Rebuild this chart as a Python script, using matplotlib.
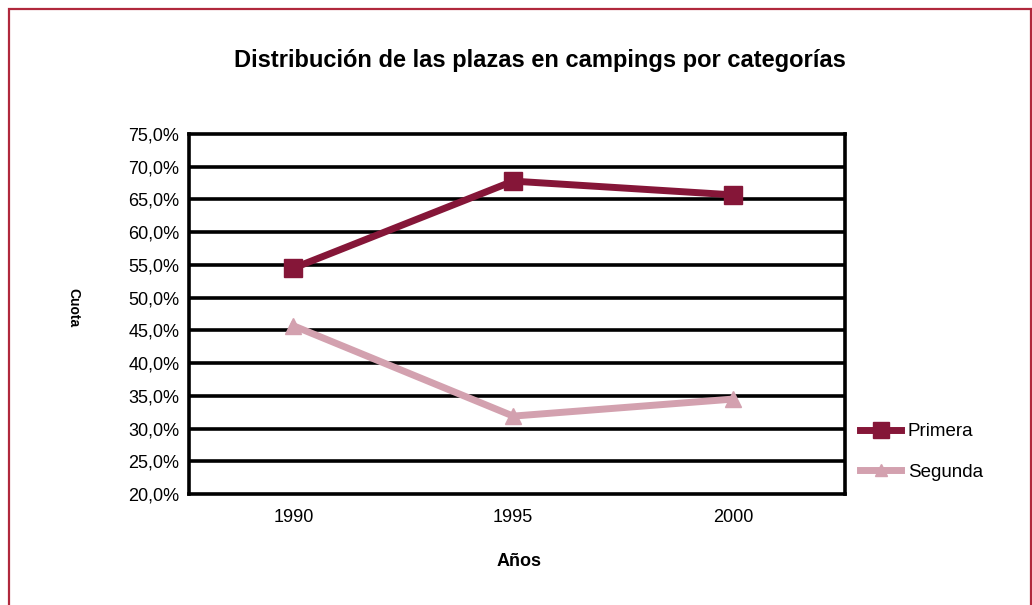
import matplotlib
matplotlib.use("Agg")
import matplotlib.pyplot as plt
from matplotlib.patches import Rectangle
from matplotlib.ticker import FuncFormatter

plt.rcParams['font.family'] = ['Liberation Sans', 'DejaVu Sans']

years = ["1990", "1995", "2000"]
primera = [54.5, 67.8, 65.7]
segunda = [45.7, 31.9, 34.5]
yticks = [20, 25, 30, 35, 40, 45, 50, 55, 60, 65, 70, 75]

W, H = 1032, 605
fig = plt.figure(figsize=(W / 100, H / 100), dpi=100)
fig.patch.set_facecolor('white')

# outer frame
fig.add_artist(Rectangle((9 / W, -0.05), (1031 - 9) / W, 1.05 - 9 / H,
                         transform=fig.transFigure, fill=False,
                         edgecolor='#B0283C', linewidth=1.6))

ax = fig.add_axes([189 / W, 1 - 494 / H, (845 - 189) / W, (494 - 134) / H])
x = range(len(years))
c1 = '#851638'
c2 = '#D3A1AF'
ax.plot(x, primera, color=c1, lw=5, marker='s', ms=13, label='Primera', zorder=4)
ax.plot(x, segunda, color=c2, lw=5, marker='^', ms=11, label='Segunda', zorder=4)

ax.set_xlim(-0.475, 2.51)
ax.set_ylim(20, 75)
ax.set_yticks(yticks)
ax.yaxis.set_major_formatter(FuncFormatter(lambda v, p: f"{v:.1f}%".replace('.', ',')))
ax.set_xticks(list(x))
ax.set_xticklabels(years)
for yv in yticks[1:-1]:
    ax.axhline(yv, color='black', lw=2.6, zorder=1)
for s in ax.spines.values():
    s.set_linewidth(2.6)
    s.set_color('black')
ax.tick_params(axis='y', length=0, labelsize=13, pad=7)
ax.tick_params(axis='x', length=0, labelsize=13, pad=11)

fig.text(540 / W, 1 - 61 / H, "Distribución de las plazas en campings por categorías",
         ha='center', va='center', fontsize=17, fontweight='bold')
fig.text(519 / W, 1 - 561 / H, "Años", ha='center', va='center', fontsize=13, fontweight='bold')
fig.text(73 / W, 1 - 308 / H, "Cuota", ha='center', va='center', fontsize=10,
         fontweight='bold', rotation=-90)

leg = fig.legend(loc='center left', bbox_to_anchor=(843 / W, 1 - 452 / H), frameon=False,
                 fontsize=13.5, handlelength=2.2, handletextpad=0.35, labelspacing=1.25,
                 markerscale=0.85)

fig.savefig('out.png', dpi=100, facecolor='white')
